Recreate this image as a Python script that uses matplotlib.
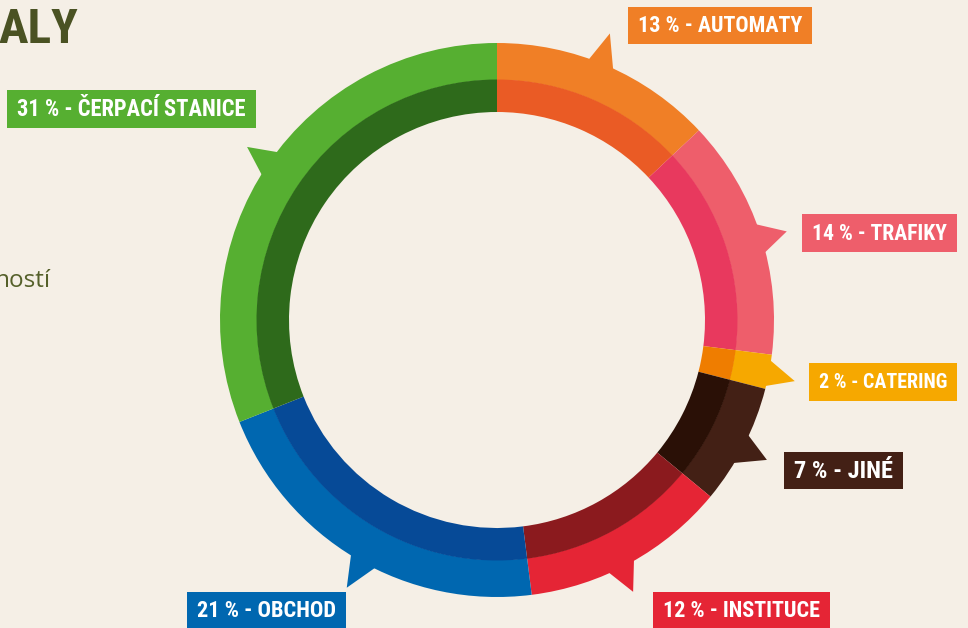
import matplotlib
matplotlib.use("Agg")
import matplotlib.pyplot as plt
from matplotlib.patches import Wedge, Polygon, Rectangle
from matplotlib import font_manager
import numpy as np

# ── data ──────────────────────────────────────────────────────────────────────
categories = ["AUTOMATY", "TRAFIKY", "CATERING", "JINÉ", "INSTITUCE", "OBCHOD", "ČERPACÍ STANICE"]
shares = [13, 14, 2, 7, 12, 21, 31]

outer_colors = ["#F07F26", "#EE5E6B", "#F6A800", "#432015", "#E52535", "#0067B0", "#56AF31"]
inner_colors = ["#EA5B25", "#E8395E", "#EF7D00", "#2A1006", "#8B1A1E", "#064A97", "#2E6A1B"]

# ── layout (pixel coords, y down) ─────────────────────────────────────────────
CX, CY = 497, 320
R_OUT, R_MID, R_IN = 277, 240, 208
BG = "#F5EFE6"
OLIVE = "#4A5223"

# arrow per segment: base angle from, base angle to, tip angle, tip radius (deg clockwise from top)
arrows = [
    (19.0, 25.5, 21.5, 308),
    (69.0, 76.5, 73.0, 303),
    (97.7, 104.3, 101.6, 304),
    (114.0, 122.0, 117.4, 304),
    (149.6, 156.7, 153.4, 304),
    (205.6, 212.4, 209.3, 307),
    (301.0, 308.0, 304.7, 304),
]

# label boxes: x0, y0, x1, y1
boxes = [
    (628, 7, 812, 44),
    (802, 214, 957, 252),
    (809, 363, 957, 401),
    (784, 452, 903, 489),
    (653, 592, 830, 632),
    (187, 592, 346, 632),
    (7, 90, 256, 128),
]

# pick a condensed face if one is installed
_fonts = font_manager.fontManager.ttflist
_names = {f.name for f in _fonts}
LABEL_FONT = ["DejaVu Sans"]
LABEL_STRETCH = "normal"
for cand in ["Roboto Condensed", "Liberation Sans Narrow", "Open Sans Condensed"]:
    if cand in _names:
        LABEL_FONT = [cand, "DejaVu Sans"]
        break
else:
    if any(f.name == "DejaVu Sans" and f.stretch == "condensed" for f in _fonts):
        LABEL_STRETCH = "condensed"


def polar(a, r):
    t = np.radians(a)
    return CX + r * np.sin(t), CY - r * np.cos(t)


def fit_width(txt, max_w, renderer):
    w = txt.get_window_extent(renderer).width
    if w > max_w:
        txt.set_fontsize(txt.get_fontsize() * max_w / w)


fig = plt.figure(figsize=(9.68, 6.28), dpi=100)
fig.patch.set_facecolor(BG)
ax = fig.add_axes([0, 0, 1, 1])
ax.set_xlim(0, 968)
ax.set_ylim(628, 0)
ax.axis("off")
ax.set_facecolor(BG)

labels = []
total = sum(shares)
start = 0.0
for i, (cat, val) in enumerate(zip(categories, shares)):
    a0 = start
    a1 = start + 360.0 * val / total
    start = a1
    # ring wedges (theta = clockwise-from-top - 90 with inverted y)
    ax.add_patch(Wedge((CX, CY), R_OUT, a0 - 90, a1 - 90, width=R_OUT - R_MID,
                       facecolor=outer_colors[i], edgecolor="none"))
    ax.add_patch(Wedge((CX, CY), R_MID + 0.5, a0 - 90, a1 - 90, width=R_MID + 0.5 - R_IN,
                       facecolor=inner_colors[i], edgecolor="none"))

    # pointer arrow
    b0, b1, ta, tr = arrows[i]
    pts = [polar(b0, R_OUT - 6), polar(ta, tr), polar(b1, R_OUT - 6)]
    ax.add_patch(Polygon(pts, closed=True, facecolor=outer_colors[i], edgecolor="none"))

    # label box
    x0, y0, x1, y1 = boxes[i]
    ax.add_patch(Rectangle((x0, y0), x1 - x0, y1 - y0,
                           facecolor=outer_colors[i], edgecolor="none"))
    t = ax.text((x0 + x1) / 2, (y0 + min(y1, 628)) / 2 + 1, f"{val} % - {cat}",
                color="white", fontsize=19, fontweight="bold", family=LABEL_FONT,
                fontstretch=LABEL_STRETCH, ha="center", va="center")
    labels.append((t, x1 - x0 - 20))

# cropped page text
aly = ax.text(-2, 43, "ALY", color=OLIVE, fontsize=60, fontweight="bold",
              family=LABEL_FONT, fontstretch=LABEL_STRETCH, ha="left", va="baseline")
ax.text(51, 287, "ností", color="#55602A", fontsize=17.5, family=["Open Sans", "DejaVu Sans"],
        ha="right", va="baseline")

fig.canvas.draw()
renderer = fig.canvas.get_renderer()
for t, w in labels:
    fit_width(t, w, renderer)
fit_width(aly, 80, renderer)

fig.savefig("out.png", dpi=100, facecolor=BG)
